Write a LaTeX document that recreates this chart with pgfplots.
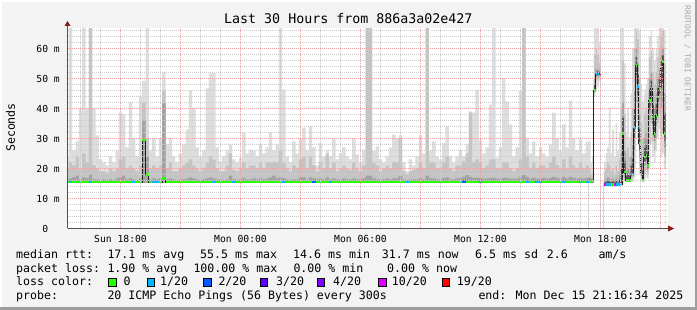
\documentclass[border=0pt]{standalone}
\usepackage{pgfplots}
\pgfplotsset{compat=1.18}
\usepackage{pgfplotstable}
\usepackage{fontspec}
\setmainfont{DejaVu Sans Mono}
\setmonofont{DejaVu Sans Mono}
\definecolor{bgc}{HTML}{F3F3F3}
\definecolor{smA}{HTML}{DDDDDD}
\definecolor{smB}{HTML}{C4C4C4}
\definecolor{smC}{HTML}{A2A2A2}
\definecolor{smD}{HTML}{555555}
\definecolor{lz}{HTML}{26FF00}
\definecolor{la}{HTML}{00B8FF}
\definecolor{lb}{HTML}{0059FF}
\definecolor{lc}{HTML}{5E00FF}
\definecolor{ld}{HTML}{7E00FF}
\definecolor{le}{HTML}{DD00FF}
\definecolor{lf}{HTML}{FF0000}
\definecolor{mgrid}{HTML}{F2A0A0}
\definecolor{ngrid}{HTML}{CCCCCC}
\definecolor{axc}{HTML}{505050}
\definecolor{arc}{HTML}{8B1A1A}
\definecolor{wm}{HTML}{AAAAAA}
\definecolor{frd}{HTML}{9E9E9E}
\definecolor{medc}{HTML}{202020}

% bulk: 10-minute bins starting at -2.75 h (hours relative to Sun 18:00)
\pgfplotstableread{
med d m h c
15.4 16.4 20 24 0
15.4 16.7 22 70 1
15.4 17 21 26 0
15.4 17.6 24 29 0
15.4 16.4 20 40 0
15.4 17 25 70 0
15.4 16.7 22 40 0
15.4 18 70 70 1
15.4 16.4 21 40 0
15.4 16.4 20 31 0
15.4 16.1 19 23 0
15.4 16.4 19 22 0
15.4 16.1 18.5 21 0
15.4 16.4 20 24 0
15.4 16.1 19 22 0
15.4 16.7 20 26 0
15.4 17 23 38.7 0
15.4 17.6 24 38 0
15.4 16.4 20 27 0
15.4 16.7 21 42 0
15.4 16.4 20 30 1
15.4 16.1 19 24 0
15.4 16.7 21 44 0
29.5 36 42 49.3 0
18 24 30 70 0
15.4 16.4 20 26 0
15.4 16.7 21 30 1
15.4 16.4 20 24 1
15.4 16.7 21 30 0
16.7 41.7 46 52 0
15.4 16.4 20 28 0
15.4 16.7 22 30 0
15.4 16.4 19 24 0
15.4 16.1 19 22 0
15.4 16.4 20 25 0
15.4 16.4 21 28 0
15.4 16.7 22 33 0
15.4 17 23 46 0
15.4 16.7 21 40 0
15.4 16.4 20 27 0
15.4 16.1 19 24 0
15.4 16.4 20 26 0
15.4 16.7 22 46.7 0
15.4 17 24 51.7 0
15.4 16.7 23 51.9 1
15.4 16.4 20 27 0
15.4 16.4 19 22.4 0
15.4 16.1 19 24 0
15.4 16.4 21 26 0
15.4 17.6 25 28 0
15.4 16.4 19.5 23 1
15.4 16.1 19 22 0
15.4 16.4 20 23.5 0
15.4 16.7 22 31.9 0
15.4 16.4 20 25 0
15.4 16.4 21 26.3 0
15.4 16.7 21 26 0
15.4 16.4 20 24 0
15.4 16.7 22 28 0
15.4 16.4 20 25 0
15.4 16.7 22 27 0
15.4 17 22 32 0
15.4 17.6 22 26 0
15.4 16.7 22 28 0
15.4 17 26 70 0
15.4 16.7 22 46.3 1
15.4 16.4 20 24 0
15.4 16.1 19 22 0
15.4 16.4 21 29 0
15.4 16.4 20 25 0
15.4 17 23 30 0
15.4 17 24 33.5 0
15.4 16.4 20 26 0
15.4 17 24 34 0
15.4 16.7 21 27 2
15.4 16.4 19 21 0
15.4 16.7 22 28.5 0
15.4 16.4 20 24 0
15.4 17 24.7 26 0
15.4 16.4 20 24 1
15.4 16.7 22 30 0
15.4 16.4 19 23 0
15.4 16.4 20 25 0
15.4 16.7 21 27 0
15.4 16.4 20 24 0
15.4 16.4 19.5 23 0
15.4 16.7 22 30.2 0
15.4 16.4 20 24.7 0
15.4 16.4 19 22 0
15.4 16.7 21 26.3 0
15.4 17.6 70 70 0
15.4 17.6 70 70 0
15.4 16.7 22 25.8 0
15.4 16.4 21 27.4 0
15.4 16.4 19 23 0
15.4 16.4 20 22 0
15.4 16.7 21 24 0
15.4 16.4 20 27 0
15.4 16.7 22 31.3 0
15.4 16.7 22 30 0
15.4 17.6 30 31 0
15.4 16.4 19 22 0
15.4 16.1 18 19 1
15.4 16.4 19 23 0
15.4 16.4 19.5 21 0
15.4 16.4 20 24 0
15.4 16.7 22 31 0
15.4 16.4 20 25 0
15.4 17.6 70 70 0
15.4 16.7 22 26 0
15.4 16.7 22 29 0
15.4 16.4 20 24 0
15.4 16.4 20 23 0
15.4 16.7 22 28.5 0
15.4 17 24 34 0
15.4 16.4 20 24 0
15.4 16.4 19 22 0
15.4 16.7 21 24 0
15.7 16.9 21 26 0
15.7 17.2 22.4 24 2
15.7 17.8 25 28 0
15.7 17.2 38.6 39 0
15.7 16.9 22 38.6 0
15.7 16.9 23 46.3 0
15.7 16.9 22 29.7 1
15.7 16.6 20 25 0
15.7 16.6 21 27 0
15.7 16.9 23 41.3 0
15.7 16.9 23 70 0
15.7 16.6 20 23.5 0
15.7 16.6 20 27 0
15.7 16.9 22 50.2 0
15.7 16.9 22 42.4 0
15.7 16.6 20 34.7 0
15.7 16.6 19 24 0
15.7 16.6 20 27 0
15.7 17.2 23 45.8 0
15.7 17.8 70 70 0
15.7 17.2 24 30 1
15.7 16.6 20 25 0
15.7 16.9 22 29 0
15.7 16.6 20 24 1
15.7 16.6 21 27 1
15.7 16.9 21 25 0
15.7 16.6 20 24 0
15.7 16.9 22 28 0
15.7 17.2 24 38.6 0
15.7 16.9 21 30 0
15.7 16.6 20 26 0
15.7 17.2 23 34.7 1
15.7 16.6 20 27 0
15.7 17.2 24 42.7 0
15.7 16.9 21 30 0
15.7 16.6 20 26 0
15.7 16.9 22 29.7 1
15.7 16.6 20 25 0
15.7 16.9 21 29 1
15.7 16.9 21 29 0
}\bulk

% final part: 5-minute bins starting at 23.41667 h
\pgfplotstableread{
med l1 l2 l3 d m h c
15.7 15 15 15 17 20 29 0
15.7 15 15 15 16.5 18 22 0
15.8 15 15 15 16.5 18.5 24 0
46 44 45 45.5 50 58 70 0
51.5 46 49 50.5 53 60 70 1
51.5 47 49.5 50.5 53 58 70 1
51.5 49 50 51 52.5 55 62 6
0 0 0 0 0 0 0 9
0 0 0 0 0 0 0 9
14.6 14.2 14.2 14.2 16 19 22 5
14.6 14.2 14.2 14.2 16.5 20 25 1
14.6 14.2 14.2 14.2 17 22 27 1
14.6 14.2 14.2 14.2 16.5 21 40 1
14.7 14.2 14.2 14.2 16 19 25 0
14.7 14.2 14.2 14.2 16.5 20 33 0
14.6 14.2 14.2 14.2 16 18 24 5
14.6 14.2 14.2 14.2 17 21 35 1
14.6 14.2 14.2 14.2 16 19 26 1
14.6 14.2 14.2 14.2 18 23 32 1
14.8 14.3 14.3 14.3 25 40 70 0
31.7 15 17 22 42 56 70 0
18.8 15.5 16 17 26 38 55 0
16 15.5 15.5 15.5 19 25 32 0
16 15.5 15.5 15.5 20 27 40 0
16 15.5 15.5 15.5 19 24 30 0
18 15.5 16 17 24 32 45 1
18.2 15.5 16.5 17.5 28 40 60 1
33.5 17 20 26 46 60 70 1
54.3 35 42 48 60 66 70 0
47.3 30 36 42 55 63 70 1
28.4 18 21 24 38 50 66 0
18.4 15.5 16.5 17.5 25 35 48 0
16.2 15.3 15.6 15.9 22 30 42 0
23.8 16 18 21 30 38 46 0
24.3 17 19 22 32 40 48 0
21 16.5 18 19.5 30 38 50 0
42.7 20 28 36 50 57 64 0
46.6 28 35 41 52 59 66 0
37.1 24 29 33 45 52 60 0
31.5 22 26 29 40 48 56 0
37.7 26 30 34 45 52 60 0
43.8 30 35 40 50 57 64 0
46.6 33 38 43 53 60 68 0
53.8 24 30 40 58 64 70 0
55.4 25 32 42 60 66 70 0
31.7 20 24 27 45 55 66 0
31.7 20 24 27 45 55 66 0
}\fin

\tikzset{lg/.style={anchor=base west, inner sep=0pt, font=\fontsize{11.6bp}{13bp}\selectfont}}
\newcommand{\bx}{-2.75+\coordindex/6}
\newcommand{\fx}{23.416667+\coordindex/12}

\begin{document}
\begin{tikzpicture}
\fill[bgc] (0,0) rectangle (697bp,310bp);
\fill[white] (0,0) rectangle (2bp,310bp);
\fill[white] (0,308bp) rectangle (697bp,310bp);
\fill[frd] (694.5bp,0) rectangle (697bp,310bp);
\fill[frd] (0,0) rectangle (697bp,2.5bp);
\fill[white] (67.5bp,81.5bp) rectangle (667.5bp,281.5bp);
\begin{axis}[
  at={(67.5bp,81.5bp)}, anchor=south west,
  scale only axis, width=600bp, height=200bp,
  xmin=-2.65, xmax=27.35, ymin=0, ymax=66.6667,
  axis on top,
  axis line style={draw=none},
  unbounded coords=jump,
  xtick={0,6,12,18,24},
  xticklabels={Sun 18:00,Mon 00:00,Mon 06:00,Mon 12:00,Mon 18:00},
  extra x ticks={3,9,15,21,27}, extra x tick labels={},
  extra x tick style={grid=major},
  minor xtick={-2,-1,1,2,4,5,7,8,10,11,13,14,16,17,19,20,22,23,25,26},
  ytick={0,10,20,30,40,50,60},
  yticklabels={0\hphantom{\ m},10 m,20 m,30 m,40 m,50 m,60 m},
  minor ytick={2,4,6,8,12,14,16,18,22,24,26,28,32,34,36,38,42,44,46,48,52,54,56,58,62,64,66},
  grid=both,
  major grid style={draw=mgrid, line width=1bp, dash pattern=on 1bp off 1bp},
  minor grid style={draw=ngrid, line width=1bp, dash pattern=on 1bp off 1bp},
  major tick length=0pt, minor tick length=0pt,
  tick label style={font=\fontsize{9.7bp}{11bp}\selectfont},
  xticklabel style={anchor=north, inner sep=0pt, yshift=-6.3bp},
  yticklabel style={anchor=east, inner sep=0pt, xshift=-7.5bp},
]
% ---- bulk smoke (painted from the top band down)
\addplot[fill=smA, draw=none, const plot] table[x expr=\bx, y=h] \bulk \closedcycle;
\addplot[fill=smB, draw=none, const plot] table[x expr=\bx, y=m] \bulk \closedcycle;
\addplot[fill=smC, draw=none, const plot] table[x expr=\bx, y=d] \bulk \closedcycle;
\addplot[fill=white, draw=none] coordinates {(-2.75,15) (23.416667,15)} \closedcycle;
% ---- final smoke
\addplot[fill=smA, draw=none, const plot] table[x expr=\fx, y=h] \fin \closedcycle;
\addplot[fill=smB, draw=none, const plot] table[x expr=\fx, y=m] \fin \closedcycle;
\addplot[fill=smC, draw=none, const plot] table[x expr=\fx, y=d] \fin \closedcycle;
\addplot[fill=smD, draw=none, const plot] table[x expr=\fx, y expr=(\thisrow{med}+\thisrow{d})/2] \fin \closedcycle;
\addplot[fill=smC, draw=none, const plot] table[x expr=\fx, y expr=(\thisrow{med}+\thisrow{l3})/2] \fin \closedcycle;
\addplot[fill=smB, draw=none, const plot] table[x expr=\fx, y=l3] \fin \closedcycle;
\addplot[fill=smA, draw=none, const plot] table[x expr=\fx, y=l2] \fin \closedcycle;
\addplot[fill=white, draw=none, const plot] table[x expr=\fx, y=l1] \fin \closedcycle;
% ---- median line
\addplot[const plot, draw=medc, line width=0.9bp] table[x expr=\bx, y=med] \bulk;
\addplot[const plot, draw=medc, line width=0.9bp] table[x expr=\fx, y expr={\thisrow{c}==9 ? nan : \thisrow{med}}] \fin;
% ---- loss colours on the median
\addplot[jump mark left, draw=lz, line width=2.4bp] table[x expr=\bx, y expr={\thisrow{c}==0 ? \thisrow{med} : -20}] \bulk;
\addplot[jump mark left, draw=la, line width=2.4bp] table[x expr=\bx, y expr={\thisrow{c}==1 ? \thisrow{med} : -20}] \bulk;
\addplot[jump mark left, draw=lb, line width=2.4bp] table[x expr=\bx, y expr={\thisrow{c}==2 ? \thisrow{med} : -20}] \bulk;
\addplot[jump mark left, draw=lz, line width=2.4bp] table[x expr=\fx, y expr={\thisrow{c}==0 ? \thisrow{med} : -20}] \fin;
\addplot[jump mark left, draw=la, line width=2.4bp] table[x expr=\fx, y expr={\thisrow{c}==1 ? \thisrow{med} : -20}] \fin;
\addplot[jump mark left, draw=le, line width=2.4bp] table[x expr=\fx, y expr={\thisrow{c}==5 ? \thisrow{med} : -20}] \fin;
\addplot[jump mark left, draw=lf, line width=2.4bp] table[x expr=\fx, y expr={\thisrow{c}==6 ? \thisrow{med} : -20}] \fin;
\end{axis}
% axis lines and arrows
\draw[axc, line width=1bp] (67.5bp,81.5bp) -- (67.5bp,285bp);
\draw[axc, line width=1bp] (67.5bp,81.5bp) -- (669bp,81.5bp);
\fill[arc] (64.5bp,284bp) -- (70.5bp,284bp) -- (67.5bp,289bp) -- cycle;
\fill[arc] (668bp,78.5bp) -- (668bp,84.5bp) -- (674bp,81.5bp) -- cycle;
% title, unit, watermark
\node[anchor=base west, inner sep=0pt, font=\fontsize{13.3bp}{15bp}\selectfont] at (224bp,286bp) {Last 30 Hours from 886a3a02e427};
\node[rotate=90, inner sep=0pt, font=\fontsize{11.6bp}{13bp}\selectfont] at (10.6bp,182.5bp) {Seconds};
\node[rotate=-90, inner sep=0pt, text=wm, font=\fontsize{8bp}{9bp}\selectfont] at (687.5bp,251.5bp) {RRDTOOL / TOBI OETIKER};
% legend
\node[lg] at (16bp,51.7bp) {median rtt:};
\node[lg] at (107.3bp,51.7bp) {17.1 ms avg};
\node[lg] at (200bp,51.7bp) {55.5 ms max};
\node[lg] at (293bp,51.7bp) {14.6 ms min};
\node[lg] at (381.7bp,51.7bp) {31.7 ms now};
\node[lg] at (475bp,51.7bp) {6.5 ms sd};
\node[lg] at (546.7bp,51.7bp) {2.6};
\node[lg] at (598.3bp,51.7bp) {am/s};
\node[lg] at (16bp,38bp) {packet loss:};
\node[lg] at (107.3bp,38bp) {1.90 \% avg};
\node[lg] at (193.3bp,38bp) {100.00 \% max};
\node[lg] at (293.3bp,38bp) {0.00 \% min};
\node[lg] at (387bp,38bp) {0.00 \% now};
\node[lg] at (16bp,24.3bp) {loss color:};
\foreach \xx/\cc in {108.3/lz,146.7/la,203.3/lb,260/lc,316.7/ld,378.3/le,441.7/lf}{
  \filldraw[fill=\cc, draw=black, line width=1bp] (\xx bp+0.5bp,23.8bp) rectangle (\xx bp+7.8bp,31.1bp);
}
\node[lg] at (123.3bp,24.3bp) {0};
\node[lg] at (160bp,24.3bp) {1/20};
\node[lg] at (218.3bp,24.3bp) {2/20};
\node[lg] at (276bp,24.3bp) {3/20};
\node[lg] at (333bp,24.3bp) {4/20};
\node[lg] at (391.7bp,24.3bp) {10/20};
\node[lg] at (456.7bp,24.3bp) {19/20};
\node[lg] at (16bp,10.7bp) {probe:};
\node[lg] at (107.3bp,10.7bp) {20 ICMP Echo Pings (56 Bytes) every 300s};
\node[lg] at (478.3bp,10.7bp) {end: Mon Dec 15 21:16:34 2025};
\pgfresetboundingbox
\path[use as bounding box] (0,0) rectangle (697bp,310bp);
\end{tikzpicture}
\end{document}
